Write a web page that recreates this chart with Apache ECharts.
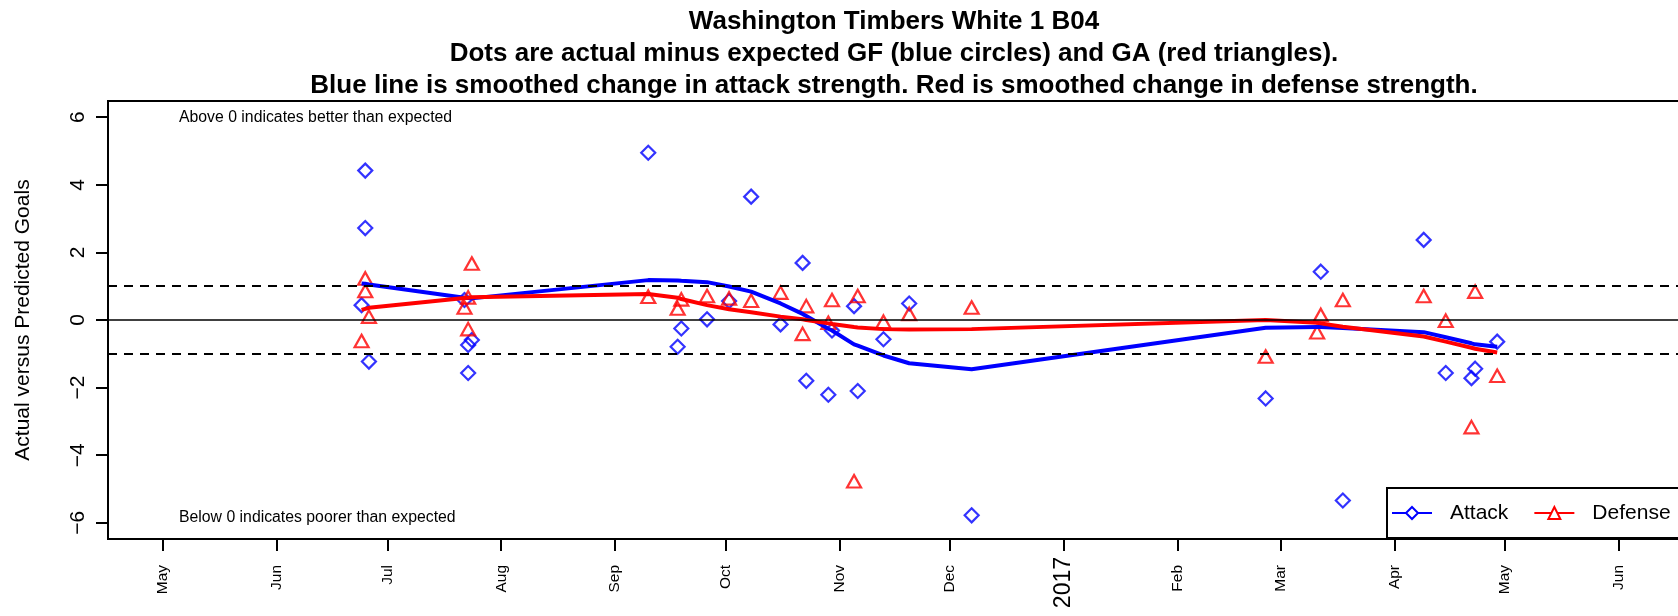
<!DOCTYPE html>
<html>
<head>
<meta charset="utf-8">
<title>Washington Timbers White 1 B04</title>
<script src="https://cdn.jsdelivr.net/npm/echarts@6.0.0/dist/echarts.min.js"></script>
<style>
    html, body { margin: 0; padding: 0; background: #fff; }
    #chart { width: 1678px; height: 616px; }
</style>
</head>
<body>
<div id="chart"></div>
<script>
// game dates, one entry per game
var gameDates = ['2016-06-24', '2016-06-25', '2016-06-25', '2016-06-26',
    '2016-07-22', '2016-07-23', '2016-07-23', '2016-07-24',
    '2016-09-10', '2016-09-18', '2016-09-19', '2016-09-26', '2016-10-02', '2016-10-08',
    '2016-10-16', '2016-10-22', '2016-10-23', '2016-10-29', '2016-10-30',
    '2016-11-05', '2016-11-06', '2016-11-13', '2016-11-20', '2016-12-07',
    '2017-02-25', '2017-03-11', '2017-03-12', '2017-03-18',
    '2017-04-09', '2017-04-15', '2017-04-22', '2017-04-23', '2017-04-29'];

// actual minus expected goals for (blue) and against (red)
var attackDiff = [0.44, 4.42, 2.72, -1.23,
    0.59, -0.74, -1.57, -0.59,
    4.95, -0.79, -0.25, 0.02, 0.56, 3.65,
    -0.13, 1.69, -1.80, -2.21, -0.31,
    0.41, -2.10, -0.57, 0.49, -5.78,
    -2.32, null, 1.43, -5.34,
    2.37, -1.57, -1.72, -1.44, -0.64];
var defenseDiff = [-0.62, 1.23, 0.86, 0.10,
    0.37, 0.67, -0.27, 1.67,
    0.69, 0.34, 0.61, 0.71, 0.64, 0.57,
    0.81, -0.41, 0.41, -0.08, 0.59,
    -4.77, 0.71, -0.05, 0.18, 0.37,
    -1.08, -0.36, 0.15, 0.59,
    0.71, -0.02, -3.17, 0.84, -1.65];

// smoothed change in strength
var attackSmooth = [1.08, 1.07, 1.07, 1.05,
    0.66, 0.65, 0.65, 0.64,
    1.18, 1.17, 1.16, 1.12, 0.99, 0.84,
    0.49, 0.18, 0.12, -0.26, -0.31,
    -0.72, -0.76, -1.05, -1.28, -1.46,
    -0.23, -0.21, -0.21, -0.24,
    -0.36, -0.51, -0.69, -0.72, -0.79];
var defenseSmooth = [0.30, 0.33, 0.33, 0.36,
    0.65, 0.66, 0.66, 0.67,
    0.77, 0.66, 0.62, 0.44, 0.32, 0.23,
    0.10, 0.02, 0.00, -0.10, -0.12,
    -0.21, -0.22, -0.27, -0.28, -0.27,
    0.00, -0.08, -0.10, -0.20,
    -0.49, -0.64, -0.82, -0.85, -0.96];

// x axis ticks
var tickDates = ['2016-05-01', '2016-06-01', '2016-07-01', '2016-08-01', '2016-09-01',
    '2016-10-01', '2016-11-01', '2016-12-01', '2017-01-01', '2017-02-01',
    '2017-03-01', '2017-04-01', '2017-05-01', '2017-06-01'];
var tickLabels = ['May', 'Jun', 'Jul', 'Aug', 'Sep', 'Oct', 'Nov', 'Dec', '2017', 'Feb',
    'Mar', 'Apr', 'May', 'Jun'];
var yTicks = [-6, -4, -2, 0, 2, 4, 6];

var xStart = '2016-04-16';
var xEnd = '2017-06-24';

function t(s) {
    return Date.parse(s + 'T00:00:00Z');
}

function pairs(vals) {
    var out = [];
    for (var i = 0; i < gameDates.length; i++) {
        if (vals[i] != null) out.push([t(gameDates[i]), vals[i]]);
    }
    return out;
}

var tickTimes = tickDates.map(t);
var FONT = '"Liberation Sans", Arial, Helvetica, sans-serif';

var option = {
    animation: false,
    backgroundColor: '#fff',
    textStyle: {fontFamily: FONT, color: '#000'},
    title: {
        text: 'Washington Timbers White 1 B04\n' +
            'Dots are actual minus expected GF (blue circles) and GA (red triangles).\n' +
            'Blue line is smoothed change in attack strength. Red is smoothed change in defense strength.',
        left: 894,
        top: 6,
        padding: 0,
        textAlign: 'center',
        textStyle: {fontFamily: FONT, fontSize: 26, fontWeight: 'bold', lineHeight: 32, color: '#000'}
    },
    legend: {
        data: ['Attack', 'Defense'],
        left: 1387,
        top: 488,
        width: 400,
        orient: 'horizontal',
        padding: [14, 60, 14, 4],
        itemWidth: 40,
        itemHeight: 15,
        itemGap: 25,
        backgroundColor: '#fff',
        borderColor: '#000',
        borderWidth: 2,
        borderRadius: 0,
        lineStyle: {width: 2},
        textStyle: {fontFamily: FONT, fontSize: 21, lineHeight: 22, color: '#000', padding: [0, 0, 0, 13]}
    },
    grid: {
        left: 108,
        top: 101,
        right: -25,
        bottom: 77,
        outerBoundsMode: 'none',
        show: true,
        borderColor: '#000',
        borderWidth: 2,
        backgroundColor: 'transparent'
    },
    xAxis: {
        type: 'value',
        min: t(xStart),
        max: t(xEnd),
        axisLine: {show: false, onZero: false},
        splitLine: {show: false},
        axisTick: {
            show: true, length: 12, inside: false,
            customValues: tickTimes,
            lineStyle: {color: '#000', width: 2}
        },
        axisLabel: {
            customValues: tickTimes,
            rotate: 90,
            margin: 18,
            formatter: function (v) {
                var i = tickTimes.indexOf(v);
                var s = i >= 0 ? tickLabels[i] : '';
                return /^\d{4}$/.test(s) ? '{y|' + s + '}' : '{m|' + s + '}';
            },
            rich: {
                m: {fontFamily: FONT, fontSize: 15.5, color: '#000', padding: [0, 8, 0, 0]},
                y: {fontFamily: FONT, fontSize: 23, color: '#000'}
            }
        }
    },
    yAxis: {
        type: 'value',
        min: -6.48,
        max: 6.48,
        name: 'Actual versus Predicted Goals',
        nameLocation: 'middle',
        nameRotate: 90,
        nameGap: 74,
        nameTextStyle: {fontFamily: FONT, fontSize: 21, color: '#000'},
        axisLine: {show: false, onZero: false},
        splitLine: {show: false},
        axisTick: {
            show: true, length: 12, inside: false,
            customValues: yTicks,
            lineStyle: {color: '#000', width: 2}
        },
        axisLabel: {
            customValues: yTicks,
            rotate: 90,
            margin: 19,
            fontFamily: FONT,
            fontSize: 21,
            color: '#000',
            formatter: function (v) {
                return String(v).replace('-', '\u2212');
            }
        }
    },
    graphic: [
        {
            type: 'text', left: 179, top: 110, z: 10,
            style: {text: 'Above 0 indicates better than expected', font: '15.8px ' + FONT, fill: '#000'}
        },
        {
            type: 'text', left: 179, top: 510, z: 10,
            style: {text: 'Below 0 indicates poorer than expected', font: '15.8px ' + FONT, fill: '#000'}
        }
    ],
    series: [
        {
            name: 'Attack GF',
            type: 'scatter',
            data: pairs(attackDiff),
            symbol: 'diamond',
            symbolSize: 14,
            itemStyle: {color: 'rgba(0,0,0,0)', borderColor: '#0000ff', borderWidth: 2.2},
            z: 3,
            markLine: {
                silent: true,
                symbol: ['none', 'none'],
                label: {show: false},
                data: [
                    {yAxis: 0, lineStyle: {color: '#000', width: 1.6, type: 'solid'}},
                    {yAxis: 1, lineStyle: {color: '#000', width: 2, type: [9, 7]}},
                    {yAxis: -1, lineStyle: {color: '#000', width: 2, type: [9, 7]}}
                ]
            }
        },
        {
            name: 'Defense GA',
            type: 'scatter',
            data: pairs(defenseDiff),
            symbol: 'triangle',
            symbolSize: [14, 12.5],
            itemStyle: {color: 'rgba(0,0,0,0)', borderColor: '#ff0000', borderWidth: 2.2},
            z: 3
        },
        {
            name: 'Attack',
            type: 'line',
            data: pairs(attackSmooth),
            symbol: 'emptyDiamond',
            showSymbol: false,
            color: '#0000ff',
            lineStyle: {color: '#0000ff', width: 4},
            z: 4
        },
        {
            name: 'Defense',
            type: 'line',
            data: pairs(defenseSmooth),
            symbol: 'emptyTriangle',
            showSymbol: false,
            color: '#ff0000',
            lineStyle: {color: '#ff0000', width: 4},
            z: 4
        }
    ]
};

var chart = echarts.init(document.getElementById('chart'));
chart.setOption(option);
</script>
</body>
</html>
